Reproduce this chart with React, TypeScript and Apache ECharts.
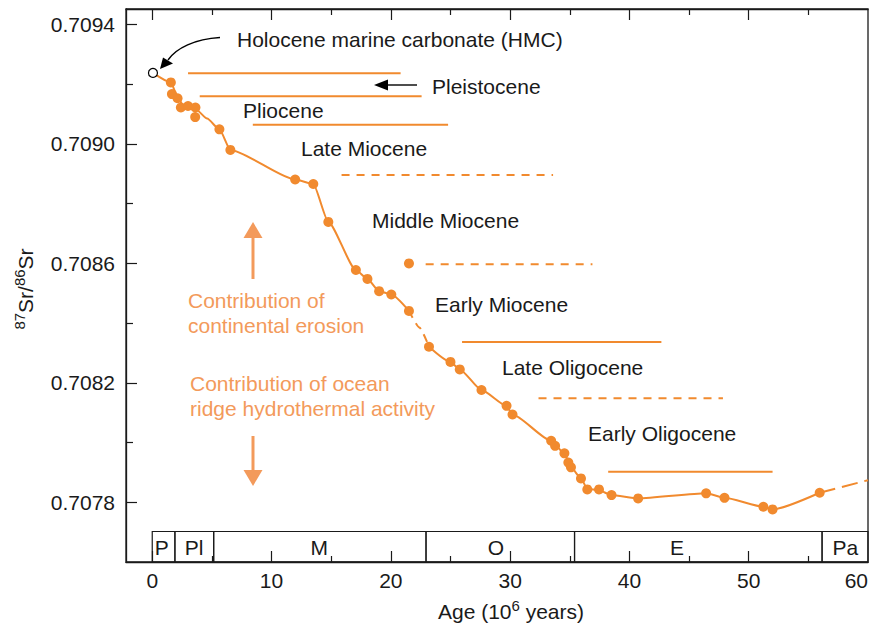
import React, { useEffect, useRef } from "react";
import * as echarts from "echarts";

const FONT = '"Liberation Sans", Arial, Helvetica, sans-serif';
const ORANGE = "#f18a2e";
const ORANGE_TEXT = "#f39a5b";
const INK = "#1a1a1a";

// ---- axes ----
const xMin = -2.2;
const xMax = 60;
const yMin = 0.7076;
const yMax = 0.709452;
const xLabelValues = [0, 10, 20, 30, 40, 50, 60];
const xMajorTicks = [0, 10, 20, 30, 40, 50];
const xMinorTicks = [5, 15, 25, 35, 45, 55];
const yLabelValues = [0.7078, 0.7082, 0.7086, 0.709, 0.7094];
const yMinorTicks = [0.708, 0.7084, 0.7088, 0.7092];

// ---- measured samples (age Ma, 87Sr/86Sr) ----
const sampleAges = [
  1.56, 1.65, 2.12, 2.4, 3.0, 3.62, 3.6, 5.63, 6.55, 11.98, 13.5, 14.76, 17.07,
  18.04, 19.02, 20.04, 21.52, 21.52, 23.2, 25.0, 25.78, 27.6, 29.7, 30.2, 33.44,
  33.77, 34.55, 34.88, 35.1, 35.94, 36.47, 37.45, 38.5, 40.73, 46.43, 47.97,
  51.23, 52.0, 55.95,
];
const sampleRatios = [
  0.709206, 0.709167, 0.709153, 0.709122, 0.709127, 0.709122, 0.70909,
  0.709049, 0.70898, 0.708881, 0.708866, 0.708739, 0.708578, 0.708548,
  0.708507, 0.708496, 0.708441, 0.7086, 0.708321, 0.70827, 0.708245, 0.708176,
  0.708123, 0.708094, 0.708006, 0.707989, 0.707964, 0.707933, 0.707917,
  0.70788, 0.707843, 0.707843, 0.707824, 0.707813, 0.70783, 0.707815,
  0.707785, 0.707776, 0.707832,
];
const hmcAges = [0.06];
const hmcRatios = [0.709238];

// ---- fitted curve ----
const curveAAges = [0.06, 1.56, 2.1, 2.6, 3.6, 4.6, 5.63, 6.55, 11.98, 13.5, 14.76, 17.07, 18.04, 19.02, 20.04, 21.52];
const curveARatios = [0.709238, 0.709206, 0.70916, 0.709128, 0.709118, 0.709085, 0.709049, 0.70898, 0.708881, 0.708866, 0.708739, 0.708578, 0.708548, 0.708507, 0.708496, 0.708441];
const curveBAges = [21.52, 22.4, 23.2];
const curveBRatios = [0.708441, 0.708385, 0.708321];
const curveCAges = [23.2, 25.0, 25.78, 27.6, 29.7, 30.2, 33.44, 34.55, 35.1, 35.94, 36.47, 37.45, 38.5, 40.73, 46.43, 47.97, 51.23, 52.0, 55.95];
const curveCRatios = [0.708321, 0.70827, 0.708245, 0.708176, 0.708123, 0.708094, 0.708006, 0.707964, 0.707917, 0.70788, 0.707845, 0.70784, 0.707824, 0.707813, 0.70783, 0.707815, 0.707785, 0.707776, 0.707832];
const curveDAges = [55.95, 60];
const curveDRatios = [0.707832, 0.707874];

// ---- epoch ranges (horizontal bars) ----
const rangeStartAges = [3.0, 3.98, 8.43, 15.87, 22.92, 25.97, 32.38, 38.22];
const rangeEndAges = [20.82, 22.58, 24.8, 33.6, 36.9, 42.68, 47.84, 52.0];
const rangeRatios = [0.709237, 0.70916, 0.709064, 0.708896, 0.708597, 0.708337, 0.708148, 0.707902];
const rangeDashed = [false, false, false, true, true, false, true, false];

// ---- time scale ----
const epochNames = ["P", "Pl", "M", "O", "E", "Pa"];
const epochStarts = [0, 1.9, 5.15, 22.95, 35.4, 56.15];
const epochEnds = [1.9, 5.15, 22.95, 35.4, 56.15, 65];
const epochLabelAges = [0.8, 3.5, 14.0, 28.8, 44.0, 58.1];

const zip = (a: number[], b: number[]) => a.map((v, i) => [v, b[i]]);

function buildOption(): any {
  const lineBase = {
    type: "line",
    showSymbol: false,
    silent: true,
    smooth: 0.2,
    smoothMonotone: "x",
    z: 2,
  };
  const rangeSeries = rangeStartAges.map((s, i) => ({
    type: "line",
    name: "range" + i,
    showSymbol: false,
    silent: true,
    z: 2,
    data: [
      [s, rangeRatios[i]],
      [rangeEndAges[i], rangeRatios[i]],
    ],
    lineStyle: { color: ORANGE, width: 2, type: rangeDashed[i] ? [8, 7] : "solid" },
  }));

  const txt = (text: string, x: number, y: number, fill = INK) => ({
    type: "text",
    x,
    y,
    style: { text, fill, font: `21px ${FONT}`, textAlign: "left", textVerticalAlign: "middle" },
    z: 10,
  });

  return {
    animation: false,
    backgroundColor: "#ffffff",
    grid: {
      left: 126,
      top: 9,
      width: 743.5,
      height: 553,
      show: true,
      borderColor: INK,
      borderWidth: 1.3,
      containLabel: false,
    },
    xAxis: [
      {
        type: "value",
        position: "bottom",
        min: xMin,
        max: xMax,
        axisLine: { show: true, onZero: false, lineStyle: { color: INK, width: 1.3 } },
        axisTick: { show: true, inside: true, length: 11, customValues: xMajorTicks, lineStyle: { color: INK, width: 1.2 } },
        axisLabel: {
          show: true,
          customValues: xLabelValues,
          fontSize: 21,
          fontFamily: FONT,
          color: INK,
          margin: 8,
          alignMaxLabel: "right",
        },
        splitLine: { show: false },
      },
      {
        type: "value",
        position: "bottom",
        min: xMin,
        max: xMax,
        axisLine: { show: false, onZero: false },
        axisTick: { show: true, inside: true, length: 6, customValues: xMinorTicks, lineStyle: { color: INK, width: 1.2 } },
        axisLabel: { show: false },
        splitLine: { show: false },
      },
      {
        type: "value",
        position: "top",
        min: xMin,
        max: xMax,
        axisLine: { show: true, onZero: false, lineStyle: { color: INK, width: 1.3 } },
        axisTick: { show: true, inside: true, length: 11, customValues: xMajorTicks, lineStyle: { color: INK, width: 1.2 } },
        axisLabel: { show: false },
        splitLine: { show: false },
      },
      {
        type: "value",
        position: "top",
        min: xMin,
        max: xMax,
        axisLine: { show: false, onZero: false },
        axisTick: { show: true, inside: true, length: 6, customValues: xMinorTicks, lineStyle: { color: INK, width: 1.2 } },
        axisLabel: { show: false },
        splitLine: { show: false },
      },
    ],
    yAxis: [
      {
        type: "value",
        position: "left",
        min: yMin,
        max: yMax,
        axisLine: { show: true, onZero: false, lineStyle: { color: INK, width: 1.3 } },
        axisTick: { show: true, inside: true, length: 11, customValues: yLabelValues, lineStyle: { color: INK, width: 1.2 } },
        axisLabel: {
          show: true,
          customValues: yLabelValues,
          formatter: (v: number) => v.toFixed(4),
          fontSize: 21,
          fontFamily: FONT,
          color: INK,
          margin: 11,
        },
        splitLine: { show: false },
      },
      {
        type: "value",
        position: "left",
        min: yMin,
        max: yMax,
        axisLine: { show: false, onZero: false },
        axisTick: { show: true, inside: true, length: 7, customValues: yMinorTicks, lineStyle: { color: INK, width: 1.2 } },
        axisLabel: { show: false },
        splitLine: { show: false },
      },
    ],
    series: [
      { ...lineBase, name: "curveA", data: zip(curveAAges, curveARatios), lineStyle: { color: ORANGE, width: 2 } },
      { ...lineBase, name: "curveB", data: zip(curveBAges, curveBRatios), lineStyle: { color: ORANGE, width: 2, type: [8, 6] } },
      { ...lineBase, name: "curveC", data: zip(curveCAges, curveCRatios), lineStyle: { color: ORANGE, width: 2 } },
      { ...lineBase, name: "curveD", data: zip(curveDAges, curveDRatios), lineStyle: { color: ORANGE, width: 2, type: [16, 7] } },
      ...rangeSeries,
      {
        type: "scatter",
        name: "samples",
        data: zip(sampleAges, sampleRatios),
        symbol: "circle",
        symbolSize: 10,
        itemStyle: { color: ORANGE, opacity: 1 },
        z: 5,
        silent: true,
      },
      {
        type: "scatter",
        name: "HMC",
        data: zip(hmcAges, hmcRatios),
        symbol: "circle",
        symbolSize: 9,
        itemStyle: { color: "#ffffff", borderColor: "#000", borderWidth: 1.2, opacity: 1 },
        z: 6,
        silent: true,
      },
      {
        type: "custom",
        name: "timescale",
        silent: true,
        z: 3,
        clip: false,
        encode: { x: [0, 1, 2], y: 3 },
        data: epochStarts.map((s, i) => [s, epochEnds[i], epochLabelAges[i], yMin]),
        renderItem: (params: any, api: any) => {
          const cs = params.coordSys;
          const bottom = cs.y + cs.height;
          const top = bottom - 30.5;
          const right = cs.x + cs.width;
          const x1 = api.coord([api.value(0), yMin])[0];
          const x2 = Math.min(api.coord([api.value(1), yMin])[0], right);
          const xl = api.coord([api.value(2), yMin])[0];
          return {
            type: "group",
            children: [
              {
                type: "rect",
                shape: { x: x1, y: top, width: x2 - x1, height: bottom - top },
                style: { fill: "none", stroke: INK, lineWidth: 1.2 },
              },
              {
                type: "text",
                style: {
                  text: epochNames[params.dataIndex],
                  x: xl,
                  y: top + 16,
                  align: "center",
                  verticalAlign: "middle",
                  fontSize: 21,
                  fontFamily: FONT,
                  fill: INK,
                },
              },
            ],
          };
        },
      },
    ],
    graphic: [
      txt("Holocene marine carbonate (HMC)", 237, 39),
      txt("Pleistocene", 432, 86),
      txt("Pliocene", 243, 110),
      txt("Late Miocene", 301, 148),
      txt("Middle Miocene", 372, 220),
      txt("Early Miocene", 435, 304),
      txt("Late Oligocene", 502, 367),
      txt("Early Oligocene", 588, 433),
      txt("Contribution of", 188, 300, ORANGE_TEXT),
      txt("continental erosion", 188, 325, ORANGE_TEXT),
      txt("Contribution of ocean", 190, 383, ORANGE_TEXT),
      txt("ridge hydrothermal activity", 190, 408, ORANGE_TEXT),
      // orange up arrow
      { type: "rect", shape: { x: 251.5, y: 236, width: 3, height: 43 }, style: { fill: ORANGE_TEXT }, z: 10 },
      { type: "polygon", shape: { points: [[253, 222], [243.5, 238], [262.5, 238]] }, style: { fill: ORANGE_TEXT }, z: 10 },
      // orange down arrow
      { type: "rect", shape: { x: 251.5, y: 436, width: 3, height: 36 }, style: { fill: ORANGE_TEXT }, z: 10 },
      { type: "polygon", shape: { points: [[243.5, 470], [262.5, 470], [253, 486]] }, style: { fill: ORANGE_TEXT }, z: 10 },
      // Pleistocene arrow
      { type: "line", shape: { x1: 386, y1: 85, x2: 417, y2: 85 }, style: { stroke: "#000", lineWidth: 1.4 }, z: 10 },
      { type: "polygon", shape: { points: [[374, 85], [388, 79.5], [388, 90.5]] }, style: { fill: "#000" }, z: 10 },
      // HMC curved arrow
      {
        type: "bezierCurve",
        shape: { x1: 220, y1: 37.5, cpx1: 195, cpy1: 39, cpx2: 176, cpy2: 48, x2: 168, y2: 60 },
        style: { stroke: "#000", lineWidth: 1.4, fill: "none" },
        z: 10,
      },
      { type: "polygon", shape: { points: [[160, 69], [163, 57.5], [173, 63.5]] }, style: { fill: "#000" }, z: 10 },
      // axis titles
      {
        type: "text",
        x: 24,
        y: 289,
        rotation: Math.PI / 2,
        style: {
          text: "{sup|87}{main|Sr/}{sup|86}{main|Sr}",
          textAlign: "center",
          textVerticalAlign: "middle",
          fill: INK,
          rich: {
            main: { fontSize: 21, fontFamily: FONT, fill: INK, lineHeight: 24, verticalAlign: "bottom" },
            sup: { fontSize: 15, fontFamily: FONT, fill: INK, lineHeight: 24, verticalAlign: "top" },
          },
        },
        z: 10,
      },
      {
        type: "text",
        x: 511,
        y: 610,
        style: {
          text: "{main|Age (10}{sup|6}{main| years)}",
          textAlign: "center",
          textVerticalAlign: "middle",
          fill: INK,
          rich: {
            main: { fontSize: 21, fontFamily: FONT, fill: INK, lineHeight: 24, verticalAlign: "bottom" },
            sup: { fontSize: 15, fontFamily: FONT, fill: INK, lineHeight: 24, verticalAlign: "top" },
          },
        },
        z: 10,
      },
    ],
  };
}

export default function App() {
  const ref = useRef<HTMLDivElement>(null);
  useEffect(() => {
    if (!ref.current) return;
    const chart = echarts.init(ref.current, null, { renderer: "svg" });
    chart.setOption(buildOption());
    return () => chart.dispose();
  }, []);
  return (
    <div
      ref={ref}
      style={{ position: "fixed", left: 0, top: 0, width: 871, height: 625, background: "#fff" }}
    />
  );
}
